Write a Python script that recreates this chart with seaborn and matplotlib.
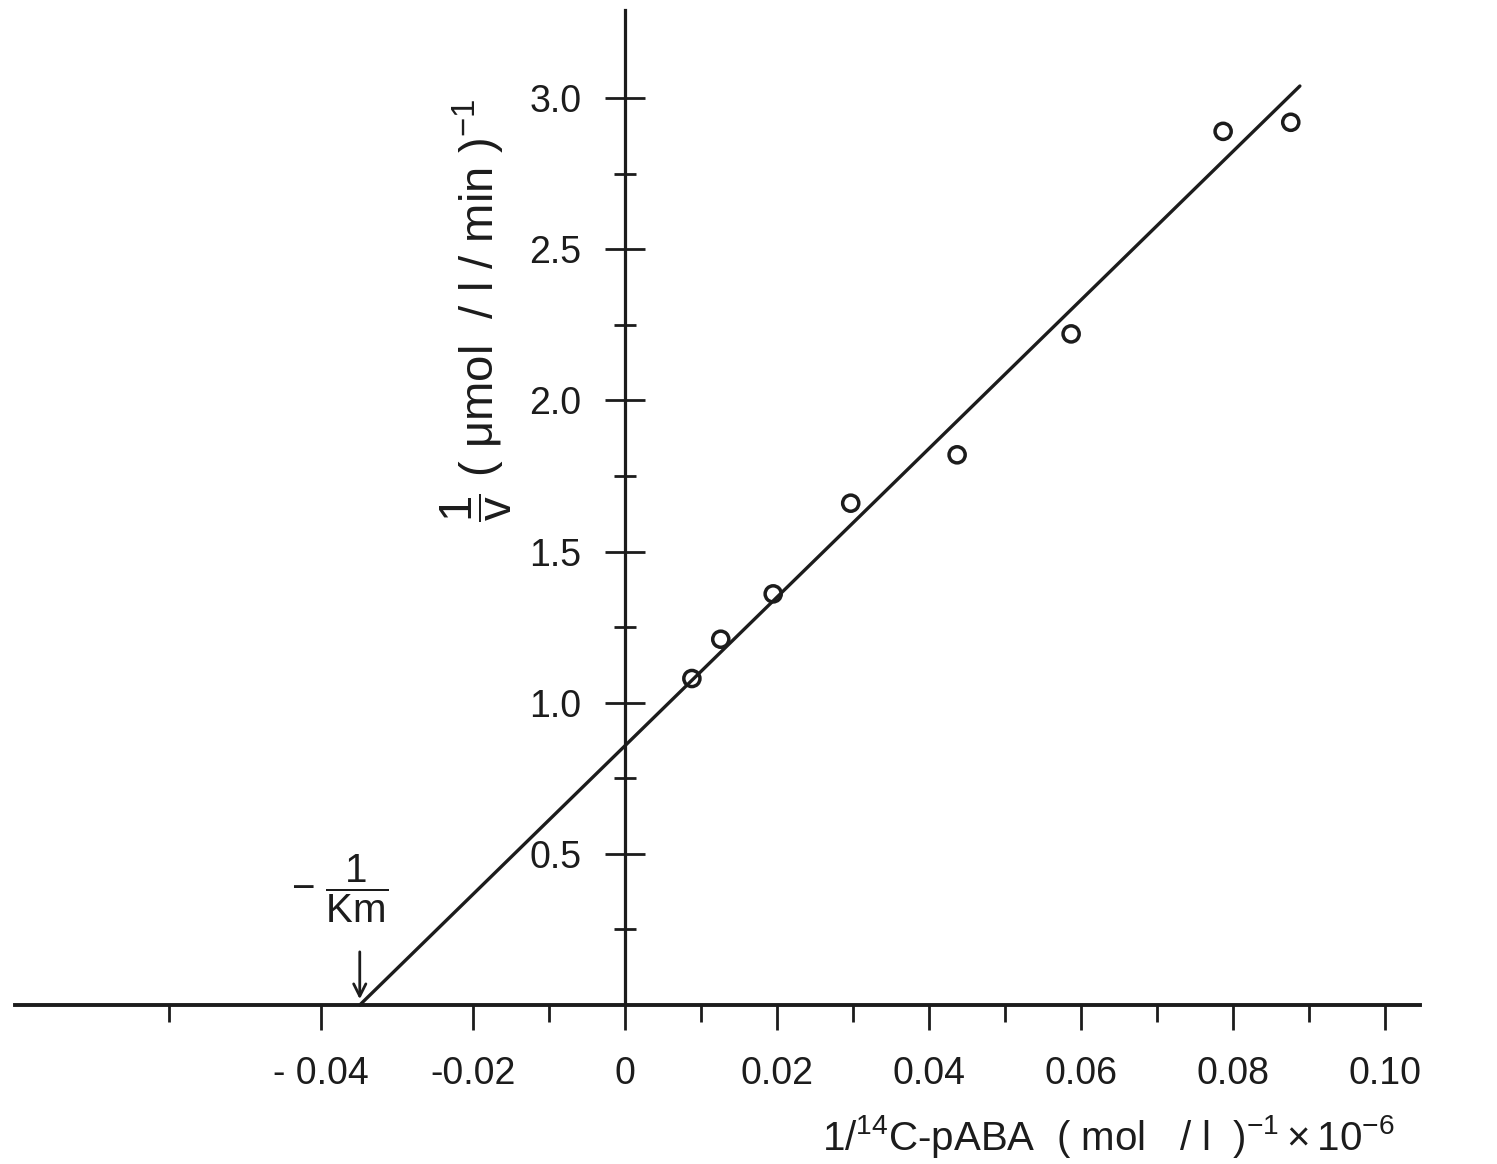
import numpy as np
import matplotlib
matplotlib.use("Agg")
import matplotlib.pyplot as plt
import seaborn as sns

# Lineweaver-Burk data: 1/[14C-pABA] vs 1/v
inv_s = [0.0088, 0.0126, 0.0195, 0.0297, 0.0437, 0.0587, 0.0787, 0.0876]
inv_v = [1.08, 1.21, 1.36, 1.66, 1.82, 2.22, 2.89, 2.92]

# fitted line as drawn (ends)
fit_x = [-0.0349, 0.0888]
fit_y = [0.0, 3.04]

x_major = [-0.04, -0.02, 0.0, 0.02, 0.04, 0.06, 0.08, 0.10]
x_labels = ["- 0.04", "-0.02", "0", "0.02", "0.04", "0.06", "0.08", "0.10"]
x_minor = [-0.06, -0.01, 0.01, 0.03, 0.05, 0.07, 0.09]
y_major = [0.5, 1.0, 1.5, 2.0, 2.5, 3.0]
y_labels = ["0.5", "1.0", "1.5", "2.0", "2.5", "3.0"]
y_minor = [0.25, 0.75, 1.25, 1.75, 2.25, 2.75]

sns.set_theme(style="white")
plt.rcParams['font.family'] = ['Liberation Sans', 'DejaVu Sans']
plt.rcParams['mathtext.fontset'] = 'custom'
plt.rcParams['mathtext.rm'] = 'Liberation Sans'
plt.rcParams['mathtext.it'] = 'Liberation Sans'
plt.rcParams['mathtext.default'] = 'regular'

ink = "#1c1c1c"
fig = plt.figure(figsize=(14.97, 11.64), dpi=100)
ax = fig.add_axes([0, 0, 1, 1])
ax.set_facecolor("white")

# pixel calibration of the scan: x 0 at 625px, 7600px per unit; y 0 at 1005px, 302.3px per unit
ax.set_xlim(-625 / 7600, (1497 - 625) / 7600)
ax.set_ylim((1005 - 1164) / 302.3, 1005 / 302.3)

sns.lineplot(x=fit_x, y=fit_y, ax=ax, color=ink, lw=2.4)
sns.scatterplot(x=inv_s, y=inv_v, ax=ax, marker='o', s=135,
                facecolor='none', edgecolor=ink, linewidth=2.5, zorder=3)

# axes through the origin
for side in ['top', 'right']:
    ax.spines[side].set_visible(False)
ax.spines['left'].set_position(('data', 0))
ax.spines['bottom'].set_position(('data', 0))
ax.spines['left'].set_bounds(0, 3.29)
ax.spines['bottom'].set_bounds(-0.0803, 0.1046)
ax.spines['left'].set_linewidth(2.3)
ax.spines['bottom'].set_linewidth(2.8)
ax.spines['left'].set_color(ink)
ax.spines['bottom'].set_color(ink)

ax.set_xticks(x_major)
ax.set_xticklabels(x_labels)
ax.set_xticks(x_minor, minor=True)
ax.set_yticks(y_major)
ax.set_yticklabels(y_labels)
ax.set_yticks(y_minor, minor=True)

ax.tick_params(axis='x', which='major', direction='out', length=18, width=2,
               pad=19, labelsize=27, color=ink, labelcolor=ink, bottom=True)
ax.tick_params(axis='x', which='minor', direction='out', length=12, width=2,
               color=ink, bottom=True)
ax.tick_params(axis='y', which='major', direction='inout', length=29, width=2,
               pad=17, labelsize=27, color=ink, labelcolor=ink, left=True)
ax.tick_params(axis='y', which='minor', direction='inout', length=16, width=2,
               color=ink, left=True)

# axis titles
fig.text(476 / 1497, 1 - 310 / 1164,
         r"$\dfrac{1}{v}\ (\ \mu mol\ \ /\ l\ /\ min\ )^{-1}$",
         rotation=90, ha='center', va='center', fontsize=34, color=ink)
fig.text(1108 / 1497, 1 - 1150 / 1164,
         r"$1/^{14}C$-$pABA\ \ (\ mol\ \ \ /\ l\ \ )^{-1}\times10^{-6}$",
         ha='center', va='baseline', fontsize=29, color=ink)

# -1/Km marker
km_x = fit_x[0]
ax.text(-0.0375, 0.385, r"$-\ \dfrac{1}{Km}$", ha='center', va='center',
        fontsize=29, color=ink)
ax.annotate('', xy=(km_x, 0.01), xytext=(km_x, 0.185),
            arrowprops=dict(arrowstyle='->', color=ink, lw=2,
                            mutation_scale=22))

fig.savefig("out.png", dpi=100, facecolor="white")
